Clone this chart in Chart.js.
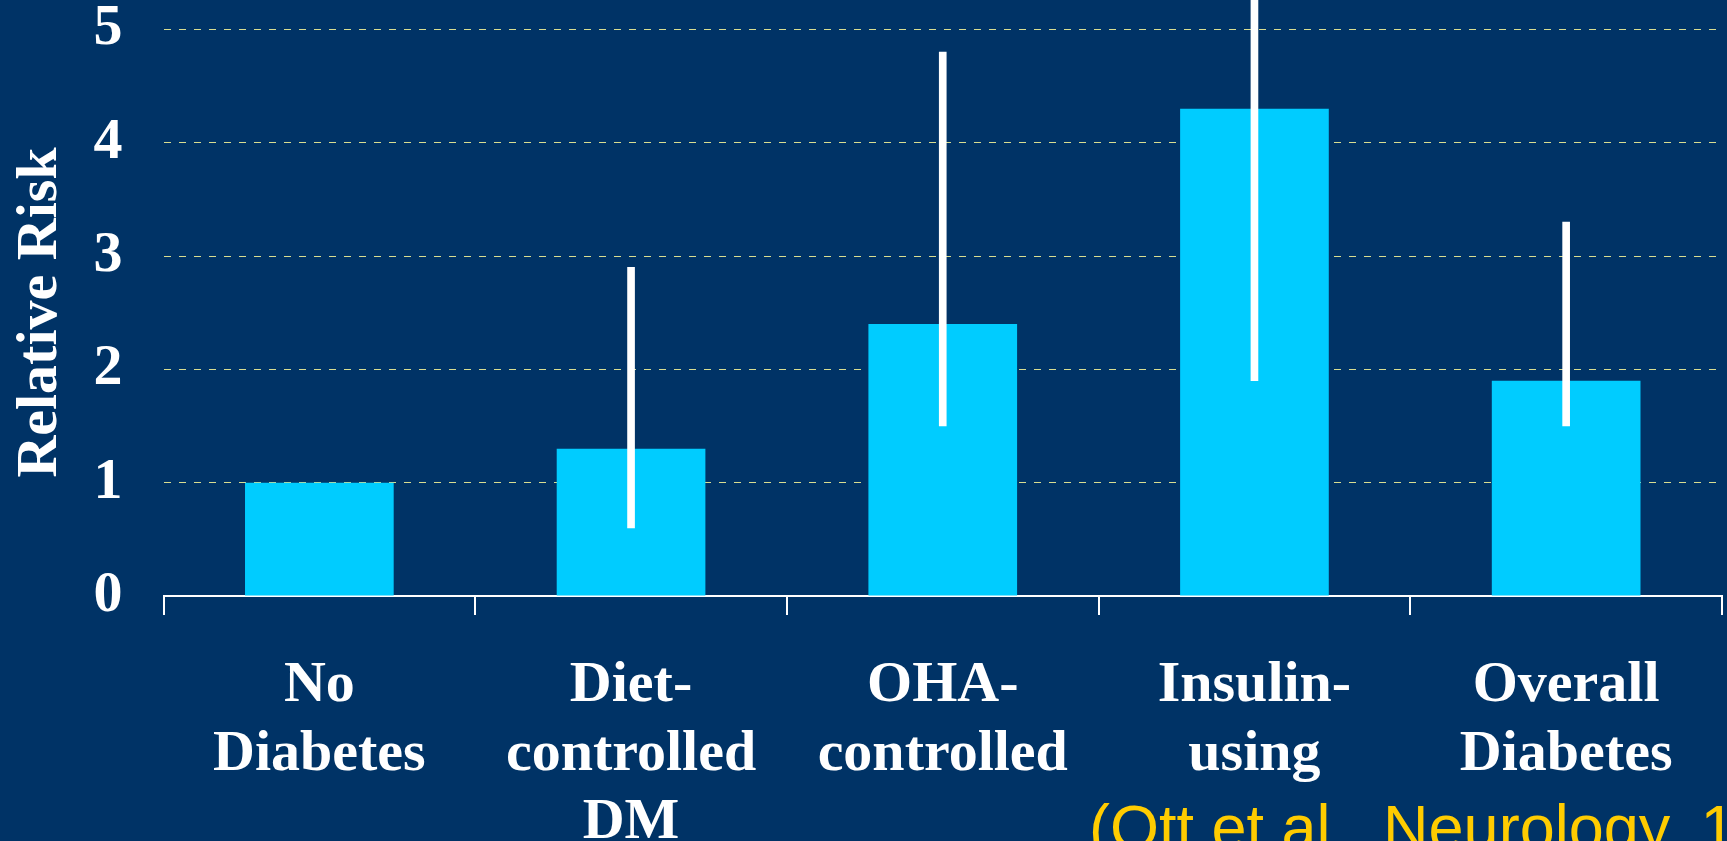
<!DOCTYPE html>
<html>
<head>
<meta charset="utf-8">
<script src="https://cdn.jsdelivr.net/npm/chart.js@4.4.1/dist/chart.umd.min.js"></script>
<style>
  html, body { margin: 0; padding: 0; background: #003366; overflow: hidden; }
  #wrap { position: relative; width: 1727px; height: 841px; }
  #cita {
    position: absolute; left: 1089px; top: 796px; white-space: nowrap;
    font-family: "Liberation Sans", Arial, sans-serif; font-size: 63px; line-height: 63px;
    color: #ffcc00;
  }
</style>
</head>
<body>
<div id="wrap">
  <canvas id="grafico" width="1727" height="841"></canvas>
  <div id="cita">(Ott et al., Neurology, 1999)</div>
</div>
<script>
// Datos
const categorias = [
    ["No", "Diabetes"],
    ["Diet-", "controlled", "DM"],
    ["OHA-", "controlled"],
    ["Insulin-", "using"],
    ["Overall", "Diabetes"]
];
const riesgoRelativo = [1.0, 1.3, 2.4, 4.3, 1.9];
const icBajo = [null, 0.6, 1.5, 1.9, 1.5];
const icAlto = [null, 2.9, 4.8, 10.5, 3.3];
const ticksY = [0, 1, 2, 3, 4, 5];

const fuenteSerif = '"Liberation Serif", "Times New Roman", serif';

const intervalos = icBajo.map((b, i) => b === null ? null : [b, icAlto[i]]);

// sin relleno extra alrededor del área del gráfico
function sinRelleno(s) {
    s.paddingTop = 0;
    s.paddingBottom = 0;
    s.paddingLeft = 0;
    s.paddingRight = 0;
}

const ctx = document.getElementById('grafico').getContext('2d');
new Chart(ctx, {
    type: 'bar',
    data: {
        labels: categorias,
        datasets: [
            {
                label: 'IC 95%',
                data: intervalos,
                backgroundColor: '#ffffff',
                barThickness: 7,
                grouped: false,
                order: 0
            },
            {
                label: 'Relative Risk',
                data: riesgoRelativo,
                backgroundColor: '#00ccff',
                barPercentage: 0.477,
                categoryPercentage: 1.0,
                grouped: false,
                order: 1
            }
        ]
    },
    options: {
        responsive: false,
        animation: false,
        layout: { padding: { top: 0, right: 5, bottom: 0, left: 0 } },
        plugins: {
            legend: { display: false },
            tooltip: { enabled: false }
        },
        scales: {
            x: {
                offset: true,
                afterFit: (s) => { s.height = 245; sinRelleno(s); },
                border: { color: '#ffffff', width: 2 },
                grid: {
                    offset: true,
                    drawOnChartArea: false,
                    color: '#ffffff',
                    lineWidth: 2,
                    tickLength: 19
                },
                ticks: {
                    color: '#ffffff',
                    padding: 37,
                    font: { family: fuenteSerif, size: 58, weight: 'bold', lineHeight: 1.18 }
                }
            },
            y: {
                min: 0,
                max: 5.26,
                afterFit: (s) => { s.width = 163.5; sinRelleno(s); },
                afterBuildTicks: (s) => {
                    s.ticks = ticksY.map(v => ({ value: v }));
                },
                border: { display: false, dash: [7, 8] },
                grid: {
                    color: 'rgba(240,240,150,0.9)',
                    lineWidth: 1,
                    drawTicks: false
                },
                ticks: {
                    color: '#ffffff',
                    padding: 41,
                    font: { family: fuenteSerif, size: 58, weight: 'bold' }
                },
                title: {
                    display: true,
                    text: 'Relative Risk  ',
                    color: '#ffffff',
                    padding: { top: 6, bottom: 0 },
                    font: { family: fuenteSerif, size: 58, weight: 'bold' }
                }
            }
        }
    }
});
</script>
</body>
</html>
